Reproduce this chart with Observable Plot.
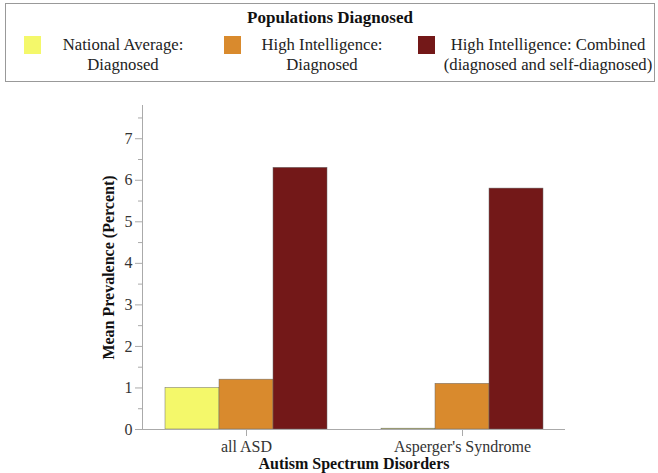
<!DOCTYPE html>
<html><head><meta charset="utf-8">
<script src="https://cdn.jsdelivr.net/npm/d3@7"></script>
<script src="https://cdn.jsdelivr.net/npm/@observablehq/plot@0.6"></script>
<style>
body{margin:0;background:#fff;font-family:"Liberation Serif","Times New Roman",serif;}
#wrap{position:relative;width:658px;height:473px;overflow:hidden;}
#legend{position:absolute;left:5px;top:3px;width:650px;height:79px;border:1px solid #999;box-sizing:border-box;}
#legend .title{position:absolute;left:0;right:0;top:4px;text-align:center;font-weight:bold;font-size:17px;color:#111;}
#legend .sw{position:absolute;top:32px;width:17px;height:18px;}
#legend .txt{position:absolute;top:31px;transform:translateX(-50%);white-space:nowrap;text-align:center;font-size:16.7px;line-height:20px;color:#222;}
#chart{position:absolute;left:0;top:85px;}
g[aria-label="y-axis label"] text, g[aria-label="x-axis label"] text{font-weight:bold;fill:#111;}
</style></head>
<body><div id="wrap"><div id="legend"></div><div id="chart"></div></div>
<script>
const disorders = ["all ASD", "Asperger's Syndrome"];
const populations = ["National Average: Diagnosed", "High Intelligence: Diagnosed", "High Intelligence: Combined (diagnosed and self-diagnosed)"];
const legendLines = [["National Average:", "Diagnosed"], ["High Intelligence:", "Diagnosed"], ["High Intelligence: Combined", "(diagnosed and self-diagnosed)"]];
const colors = ["#f4f86a", "#d98a2d", "#731818"];
const allASD = [1.0, 1.2, 6.3];
const asperger = [0.02, 1.1, 5.8];
const yTicks = [0, 1, 2, 3, 4, 5, 6, 7];
const yMinorTicks = [0.5, 1.5, 2.5, 3.5, 4.5, 5.5, 6.5, 7.5];
const legendTitle = "Populations Diagnosed";
const yLabel = "Mean Prevalence (Percent)";
const xLabel = "Autism Spectrum Disorders";

const series = [allASD, asperger];
const key = (d, p) => d + "|" + p;
const data = disorders.flatMap((d, i) => populations.map((p, j) => ({key: key(d, p), disorder: d, population: p, value: series[i][j]})));
// band domain: the bars of each disorder, with one empty slot between the groups
const xDomain = disorders.flatMap((d, i) => (i > 0 ? ["gap" + i] : []).concat(populations.map(p => key(d, p))));
const xTicks = disorders.map(d => key(d, populations[1]));

// legend
const legend = document.getElementById("legend");
const t = document.createElement("div"); t.className = "title"; t.textContent = legendTitle; legend.appendChild(t);
const swatchLefts = [18, 218, 412];
const textCenters = [117, 316, 542];
populations.forEach((p, j) => {
  const sw = document.createElement("div"); sw.className = "sw"; sw.style.left = swatchLefts[j] + "px"; sw.style.background = colors[j];
  const tx = document.createElement("div"); tx.className = "txt"; tx.style.left = textCenters[j] + "px"; tx.innerHTML = legendLines[j].join("<br>");
  legend.appendChild(sw); legend.appendChild(tx);
});

const chart = Plot.plot({
  width: 658, height: 388,
  marginLeft: 142, marginRight: 93, marginTop: 20, marginBottom: 44,
  style: {fontFamily: "Liberation Serif, Times New Roman, serif", fontSize: "16px", color: "#222", background: "#fff"},
  x: {domain: xDomain, paddingInner: 0, paddingOuter: 0.35, axis: null},
  y: {domain: [0, 7.8], axis: null},
  color: {domain: populations, range: colors},
  marks: [
    Plot.barY(data, {x: "key", y: "value", fill: "population", stroke: "#6b6b6b", strokeWidth: 0.5}),
    Plot.ruleY([0], {stroke: "#aaa"}),
    Plot.frame({anchor: "left", stroke: "#aaa"}),
    Plot.axisY({ticks: yMinorTicks, tickSize: 4, tickFormat: () => "", stroke: "#aaa", label: null}),
    Plot.axisY({ticks: yTicks, tickSize: 7, tickPadding: 3, stroke: "#aaa", fill: "#333",
      label: yLabel, labelAnchor: "center", labelArrow: "none", labelOffset: 40}),
    Plot.axisX({ticks: xTicks, tickFormat: k => k.split("|")[0], tickSize: 7, tickPadding: 4, stroke: "#aaa", fill: "#333",
      label: xLabel, labelAnchor: "center", labelArrow: "none", labelOffset: 39})
  ]
});
document.getElementById("chart").appendChild(chart);
</script>
</body></html>
